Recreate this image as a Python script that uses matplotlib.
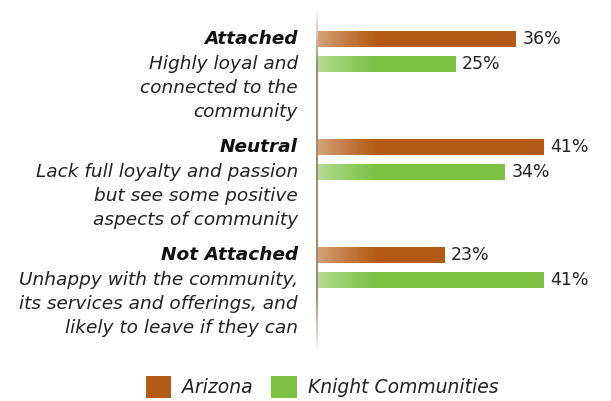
import matplotlib; matplotlib.use("Agg"); import matplotlib.pyplot as plt
from matplotlib.patches import Patch
from matplotlib.transforms import blended_transform_factory
import numpy as np

plt.rcParams['font.family'] = ['DejaVu Sans']

groups = ["Attached", "Neutral", "Not Attached"]
descriptions = [
    ["Highly loyal and", "connected to the", "community"],
    ["Lack full loyalty and passion", "but see some positive", "aspects of community"],
    ["Unhappy with the community,", "its services and offerings, and", "likely to leave if they can"],
]
series = ["Arizona", "Knight Communities"]
arizona = [36, 41, 23]
knight = [25, 34, 41]
colors = ["#b35b14", "#7bc143"]

W, H = 611, 401
fig = plt.figure(figsize=(W/100, H/100), dpi=100)
fig.patch.set_facecolor('white')
x0 = 318
ax = fig.add_axes([x0/W, 1-360/H, 1-x0/W, 360/H])
ax.axis('off')

pos = np.arange(len(groups)) + 0.48
off = 0.115
bh = 0.148
grad_w = 11.0
for vals, col, dy in [(arizona, colors[0], -off), (knight, colors[1], off)]:
    ax.barh(pos+dy, vals, height=bh, color=col, lw=0)
    for p, v in zip(pos+dy, vals):
        # white fade at the left end of each bar
        g = np.zeros((1, 64, 4)); g[..., :3] = 1
        g[0, :, 3] = np.linspace(0.5, 0, 64)**1.2
        ax.imshow(g, extent=(0, min(grad_w, v), p+bh/2, p-bh/2), aspect='auto',
                  interpolation='bilinear', zorder=3)
        ax.text(v+1.2, p, f"{v}%", va='center', ha='left', fontsize=12.5, color='#222222')

# vertical axis line fading at both ends
n = 200
la = np.clip(np.minimum(np.linspace(0, 1, n), np.linspace(1, 0, n))*6, 0, 1)
lg = np.zeros((n, 1, 4)); lg[..., 0] = 0.62; lg[..., 1] = 0.56; lg[..., 2] = 0.45
lg[:, 0, 3] = la
ax.imshow(lg, extent=(-0.42, -0.06, 355/108, 5/108), aspect='auto',
          interpolation='bilinear', zorder=4, clip_on=False)
ax.set_xlim(0, (W-x0)/5.5); ax.set_ylim(360/108, 0)

tr = blended_transform_factory(ax.transAxes, ax.transData)
lx = (298-x0)/(W-x0)
for p, g, desc in zip(pos, groups, descriptions):
    ax.text(lx, p-off, g, transform=tr, ha='right', va='center', fontsize=13.3,
            weight='bold', style='italic', color='#111111')
    for i, line in enumerate(desc):
        ax.text(lx, p+off+i*0.222, line, transform=tr, ha='right', va='center',
                fontsize=13.3, style='italic', color='#222222')

handles = [Patch(fc=c, ec='none') for c in colors]
leg = fig.legend(handles, series, loc='center', bbox_to_anchor=(322/W, 1-387/H), ncol=2,
                 frameon=False, handlelength=1.35, handleheight=1.35, handletextpad=0.6,
                 columnspacing=1.0, prop=dict(size=13.5, style='italic'))
for t_ in leg.get_texts(): t_.set_color('#222222')

fig.savefig("out.png", dpi=100, facecolor='white')
